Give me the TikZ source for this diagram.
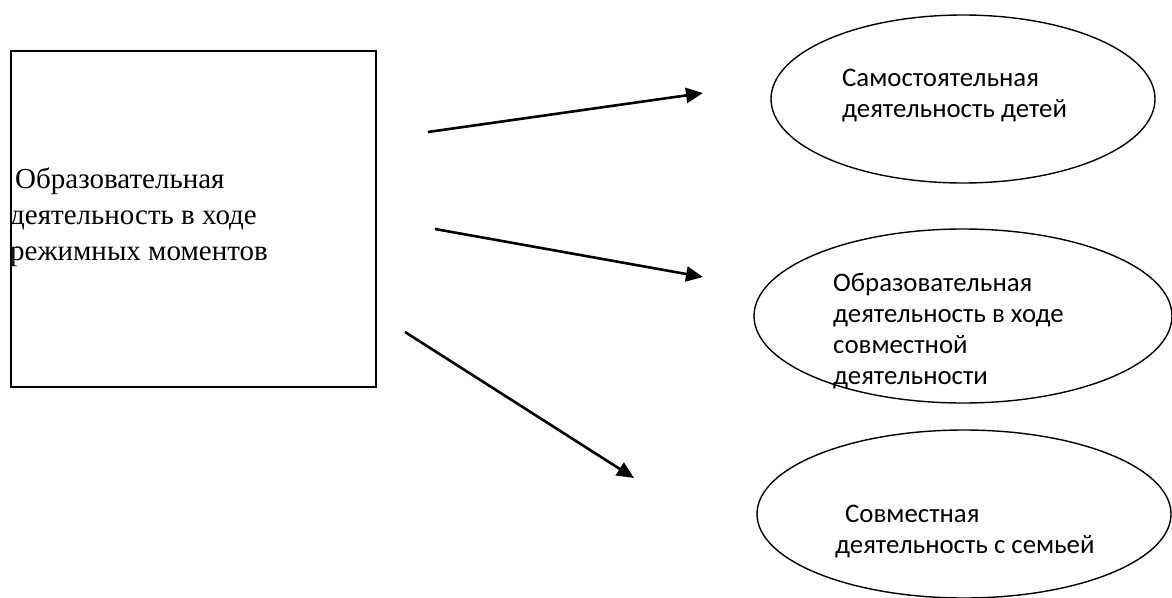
\documentclass[tikz,border=0pt]{standalone}
\usepackage{fontspec}
\setmainfont{Liberation Serif}
\newfontfamily\calfont{Carlito}
\usetikzlibrary{shapes.geometric,arrows.meta}
\begin{document}
\begin{tikzpicture}[x=1pt,y=-1pt,
  boxstyle/.style={draw, line width=2pt, minimum width=365pt, minimum height=336pt, inner sep=0pt, anchor=north west},
  ovalstyle/.style={draw, ellipse, line width=1.4pt, inner sep=0pt},
  arrowstyle/.style={line width=2.6pt, -{Triangle[length=17pt,width=15pt]}},
  boxtext/.style={font=\fontsize{29}{36}\selectfont, align=left, inner sep=0pt, anchor=west},
  ovaltext/.style={font=\calfont\fontsize{26.8}{31}\selectfont, align=left, inner sep=0pt, anchor=north west}]
\useasboundingbox (0,0) rectangle (1172,597);
\clip (0,0) rectangle (1172,597);

\node[boxstyle] (box) at (10,50) {};
\node[boxtext] (boxlabel) at (10,217) {\hspace*{5pt}Образовательная\\деятельность в ходе\\режимных моментов};

\node[ovalstyle, minimum width=384pt, minimum height=168pt] (ov1) at (963,99) {};
\node[ovalstyle, minimum width=418pt, minimum height=174pt] (ov2) at (963,316) {};
\node[ovalstyle, minimum width=414pt, minimum height=168pt] (ov3) at (964,514) {};

\node[ovaltext] (t1) at (842,69) {Самостоятельная\\деятельность детей};
\node[ovaltext] (t2) at (833,273) {Образовательная\\деятельность в ходе\\совместной\\деятельности};
\node[ovaltext] (t3) at (835,505) {\hspace*{10pt}Совместная\\деятельность с семьей};

\coordinate (a1s) at (428,132); \coordinate (a1e) at (703,93);
\coordinate (a2s) at (435,229); \coordinate (a2e) at (703,277);
\coordinate (a3s) at (405,332); \coordinate (a3e) at (634,478);
\draw[arrowstyle] (a1s) -- (a1e);
\draw[arrowstyle] (a2s) -- (a2e);
\draw[arrowstyle] (a3s) -- (a3e);
\end{tikzpicture}
\end{document}
